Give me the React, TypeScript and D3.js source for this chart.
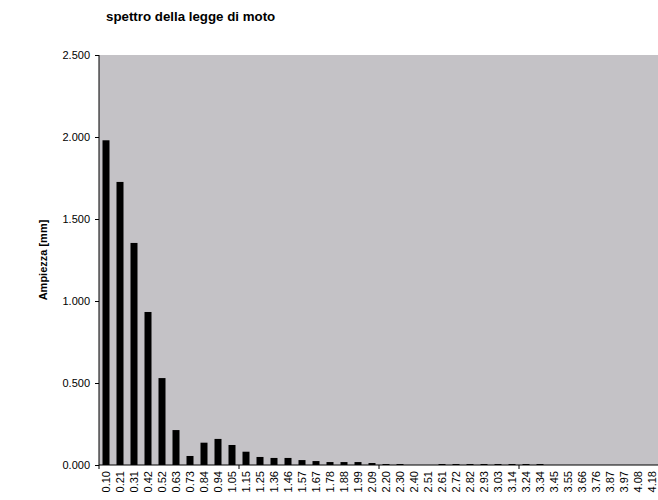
import React, { useEffect, useRef } from 'react';
import * as d3 from 'd3';

const categories = [
  '0.10', '0.21', '0.31', '0.42', '0.52', '0.63', '0.73', '0.84', '0.94', '1.05',
  '1.15', '1.25', '1.36', '1.46', '1.57', '1.67', '1.78', '1.88', '1.99', '2.09',
  '2.20', '2.30', '2.40', '2.51', '2.61', '2.72', '2.82', '2.93', '3.03', '3.14',
  '3.24', '3.34', '3.45', '3.55', '3.66', '3.76', '3.87', '3.97', '4.08', '4.18',
];

const amplitudes = [
  1.98, 1.726, 1.354, 0.933, 0.53, 0.213, 0.055, 0.136, 0.159, 0.122,
  0.081, 0.049, 0.043, 0.043, 0.03, 0.024, 0.018, 0.018, 0.018, 0.012,
  0.006, 0.006, 0, 0, 0.006, 0.006, 0.006, 0.006, 0.006, 0.006,
  0.006, 0.006, 0, 0, 0, 0, 0, 0, 0, 0,
];

const yTicks = [0, 0.5, 1, 1.5, 2, 2.5];

const W = 658;
const H = 500;
const font = 'Arial, "Liberation Sans", sans-serif';

export default function App() {
  const svgRef = useRef<SVGSVGElement>(null);

  useEffect(() => {
    if (!svgRef.current) return;
    const svg = d3.select(svgRef.current);
    svg.selectAll('*').remove();

    const left = 99, right = 659, top = 55, bottom = 465;

    const x = d3.scaleBand<string>().domain(categories).range([left, right]).paddingInner(0.5).paddingOuter(0.25);
    const xb = d3.scaleBand<string>().domain(categories).range([left, right]);
    const y = d3.scaleLinear().domain([0, 2.5]).range([bottom, top]);

    // plot area
    svg.append('rect')
      .attr('x', left).attr('y', top)
      .attr('width', right - left).attr('height', bottom - top)
      .attr('fill', '#c4c2c6');

    // bars
    svg.selectAll('.bar')
      .data(amplitudes)
      .enter()
      .append('rect')
      .attr('x', (d, i) => x(categories[i])!)
      .attr('width', x.bandwidth())
      .attr('y', d => y(d))
      .attr('height', d => bottom - y(d))
      .attr('fill', '#000');

    // y axis
    const yAxis = svg.append('g')
      .attr('transform', `translate(${left},0)`)
      .call(d3.axisLeft(y).tickValues(yTicks).tickSize(4).tickPadding(5)
        .tickFormat(d => d3.format('.3f')(d as number)));
    yAxis.select('.domain').attr('stroke', '#000').attr('d', `M0,${top}V${bottom}`);
    yAxis.selectAll('line').attr('stroke', '#000');
    yAxis.selectAll('text').attr('font-family', font).attr('font-size', 11).attr('fill', '#000');

    // x axis
    const xg = svg.append('g');
    xg.append('line')
      .attr('x1', left).attr('x2', right)
      .attr('y1', bottom).attr('y2', bottom)
      .attr('stroke', '#000');
    categories.forEach((c, i) => {
      if (i % 10 === 0) {
        xg.append('line')
          .attr('x1', xb(c)!).attr('x2', xb(c)!)
          .attr('y1', bottom).attr('y2', bottom + 4)
          .attr('stroke', '#000');
      }
    });
    xg.selectAll('.xl')
      .data(categories)
      .enter()
      .append('text')
      .attr('transform', d => `translate(${xb(d)! + xb.bandwidth() / 2 + 4},${bottom + 6}) rotate(-90)`)
      .attr('text-anchor', 'end')
      .attr('font-family', font)
      .attr('font-size', 11)
      .text(d => d);

    // title
    svg.append('text')
      .attr('x', 106).attr('y', 21)
      .attr('font-family', font).attr('font-size', 13.3).attr('font-weight', 'bold')
      .text('spettro della legge di moto');

    // y label
    svg.append('text')
      .attr('transform', `translate(47,${(top + bottom) / 2}) rotate(-90)`)
      .attr('text-anchor', 'middle')
      .attr('font-family', font).attr('font-size', 11).attr('font-weight', 'bold')
      .text('Ampiezza [mm]');
  }, []);

  return (
    <div style={{ position: 'fixed', left: 0, top: 0, width: W, height: H, background: '#fff', overflow: 'hidden' }}>
      <svg ref={svgRef} width={W} height={H} style={{ display: 'block' }} />
    </div>
  );
}
